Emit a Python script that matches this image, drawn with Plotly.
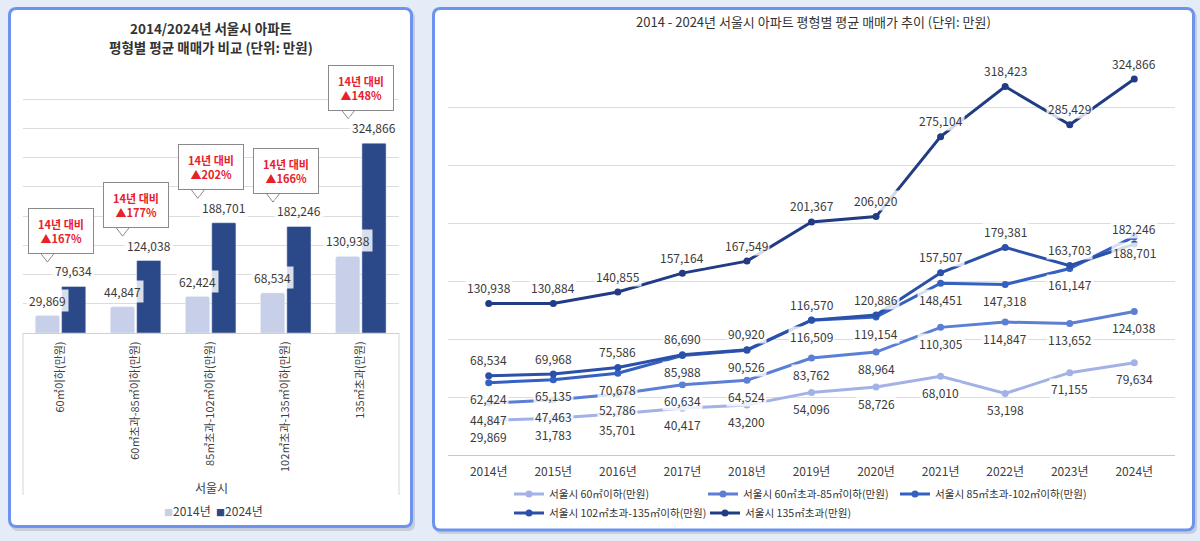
import plotly.graph_objects as go

W, H = 1200, 541
FONT = "Noto Sans CJK KR"

# ---------------- data: left bar chart ----------------
bar_categories = ["60㎡이하(만원)", "60㎡초과-85㎡이하(만원)", "85㎡초과-102㎡이하(만원)",
                  "102㎡초과-135㎡이하(만원)", "135㎡초과(만원)"]
bar_2014 = [29869, 44847, 62424, 68534, 130938]
bar_2024 = [79634, 124038, 188701, 182246, 324866]
growth_labels = ["▲167%", "▲177%", "▲202%", "▲166%", "▲148%"]

# ---------------- data: right line chart ----------------
years = ["2014년", "2015년", "2016년", "2017년", "2018년", "2019년",
         "2020년", "2021년", "2022년", "2023년", "2024년"]
names = ["서울시 60㎡이하(만원)", "서울시 60㎡초과-85㎡이하(만원)", "서울시 85㎡초과-102㎡이하(만원)",
         "서울시 102㎡초과-135㎡이하(만원)", "서울시 135㎡초과(만원)"]
s_60 = [29869, 31783, 35701, 40417, 43200, 54096, 58726, 68010, 53198, 71155, 79634]
s_60_85 = [44847, 47463, 52786, 60634, 64524, 83762, 88964, 110305, 114847, 113652, 124038]
s_85_102 = [62424, 65135, 70678, 85988, 90526, 116509, 119154, 148451, 147318, 161147, 188701]
s_102_135 = [68534, 69968, 75586, 86690, 90920, 116570, 120886, 157507, 179381, 163703, 182246]
s_135 = [130938, 130884, 140855, 157164, 167549, 201367, 206020, 275104, 318423, 285429, 324866]
series = [s_60, s_60_85, s_85_102, s_102_135, s_135]
colors = ["#a3b2e6", "#5b7fd4", "#3460c2", "#2a50a8", "#213c84"]
label_side = [-1, -1, -1, 1, 1]   # -1 below point, +1 above

# legend slots (pixel position of each legend entry's text start, row centre)
legend_slots = [(549, 494), (743, 494), (935, 494), (549, 513), (745, 513)]

C2014 = "#c8cfe8"
C2024 = "#2b4889"
TXT = "#3a3a3a"


def X(px):
    return px / W


def Y(py):
    return 1 - py / H


def rrect(x0, y0, x1, y1, r):
    return (f"M {X(x0 + r)},{Y(y0)} L {X(x1 - r)},{Y(y0)} Q {X(x1)},{Y(y0)} {X(x1)},{Y(y0 + r)} "
            f"L {X(x1)},{Y(y1 - r)} Q {X(x1)},{Y(y1)} {X(x1 - r)},{Y(y1)} "
            f"L {X(x0 + r)},{Y(y1)} Q {X(x0)},{Y(y1)} {X(x0)},{Y(y1 - r)} "
            f"L {X(x0)},{Y(y0 + r)} Q {X(x0)},{Y(y0)} {X(x0 + r)},{Y(y0)} Z")


fig = go.Figure()

# ---------------- left: bars ----------------
fig.add_trace(go.Bar(x=bar_categories, y=bar_2014, name="2014년", marker=dict(color=C2014, cornerradius=2),
                     xaxis="x", yaxis="y", showlegend=False, hoverinfo="x+y"))
fig.add_trace(go.Bar(x=bar_categories, y=bar_2024, name="2024년", marker=dict(color=C2024, cornerradius=1),
                     xaxis="x", yaxis="y", showlegend=False, hoverinfo="x+y"))

BARGAP = 0.3
OFF = (1 - BARGAP) / 4
CALLOUT_LIFT = 52000

annotations = []
# value labels on bars
for i in range(len(bar_categories)):
    for vals, dx in ((bar_2014, -OFF), (bar_2024, OFF)):
        annotations.append(dict(x=i + dx, y=vals[i], xref="x", yref="y", text=f"{vals[i]:,}",
                                showarrow=False, xanchor="center", yanchor="bottom", yshift=4,
                                font=dict(family=FONT, size=12, color=TXT),
                                bgcolor="rgba(255,255,255,0.82)", borderpad=2))

# callout pointers (on a hidden numeric axis laid over the category axis)
fig.add_trace(go.Scatter(
    x=[i - OFF for i in range(len(bar_categories))],
    y=[v + CALLOUT_LIFT for v in bar_2024],
    mode="markers", xaxis="x3", yaxis="y", showlegend=False, hoverinfo="skip",
    marker=dict(symbol="triangle-down", size=12, color="white", line=dict(color="#8a8a8a", width=1)),
    cliponaxis=False))
for i, g in enumerate(growth_labels):
    annotations.append(dict(x=i, y=bar_2024[i] + CALLOUT_LIFT, xref="x", yref="y",
                            text=f"<b>14년 대비</b><br><b>{g}</b>", showarrow=False, xanchor="center",
                            yanchor="bottom", yshift=2,
                            font=dict(family=FONT, size=11, color="#e8202a"),
                            bgcolor="white", bordercolor="#8a8a8a", borderwidth=1, borderpad=7,
                            width=50, align="center"))

# ---------------- right: lines ----------------
for k in range(5):
    fig.add_trace(go.Scatter(x=years, y=series[k], name=names[k], mode="lines+markers",
                             line=dict(color=colors[k], width=3),
                             marker=dict(color=colors[k], size=7),
                             xaxis="x2", yaxis="y2", legend="legend" if k == 0 else f"legend{k + 1}"))
    for j, v in enumerate(series[k]):
        annotations.append(dict(x=j, y=v, xref="x2", yref="y2", text=f"{v:,}", showarrow=False,
                                xanchor="center", yanchor="middle", yshift=16 * label_side[k],
                                font=dict(family=FONT, size=12, color=TXT),
                                bgcolor="rgba(255,255,255,0.8)", borderpad=1))

# titles and misc text
annotations += [
    dict(x=X(211), y=Y(28), xref="paper", yref="paper", showarrow=False,
         xanchor="center", yanchor="middle", text="<b>2014/2024년 서울시 아파트</b>",
         font=dict(family=FONT, size=13.5, color="#333333")),
    dict(x=X(211), y=Y(47), xref="paper", yref="paper", showarrow=False,
         xanchor="center", yanchor="middle", text="<b>평형별 평균 매매가 비교 (단위: 만원)</b>",
         font=dict(family=FONT, size=13.5, color="#333333")),
    dict(x=X(813), y=Y(22), xref="paper", yref="paper", showarrow=False,
         xanchor="center", yanchor="middle",
         text="2014 - 2024년 서울시 아파트 평형별 평균 매매가 추이 (단위: 만원)",
         font=dict(family=FONT, size=13, color="#333333")),
    dict(x=X(211), y=Y(487), xref="paper", yref="paper", showarrow=False,
         xanchor="center", yanchor="middle", text="서울시",
         font=dict(family=FONT, size=12, color="#404040")),
    dict(x=X(213), y=Y(510), xref="paper", yref="paper", showarrow=False,
         xanchor="center", yanchor="middle",
         text=(f'<span style="color:{C2014};font-size:9px">■</span>2014년  '
               f'<span style="color:{C2024};font-size:9px">■</span>2024년'),
         font=dict(family=FONT, size=12, color="#404040")),
]

shapes = [
    # panel shadows
    dict(type="path", xref="paper", yref="paper", path=rrect(11, 11, 415, 531, 7),
         fillcolor="rgba(60,70,100,0.18)", line=dict(width=0), layer="below"),
    dict(type="path", xref="paper", yref="paper", path=rrect(435, 11, 1197, 534, 7),
         fillcolor="rgba(60,70,100,0.18)", line=dict(width=0), layer="below"),
    # panels
    dict(type="path", xref="paper", yref="paper", path=rrect(9.5, 8.5, 411.5, 526.5, 7),
         fillcolor="white", line=dict(color="#6d93ee", width=3), layer="below"),
    dict(type="path", xref="paper", yref="paper", path=rrect(433.5, 8.5, 1193.5, 530, 7),
         fillcolor="white", line=dict(color="#6d93ee", width=3), layer="below"),
    # category box side lines (left chart)
    dict(type="line", xref="paper", yref="paper", x0=X(23), x1=X(23), y0=Y(333), y1=Y(495),
         line=dict(color="#d6d6d6", width=1), layer="below"),
    dict(type="line", xref="paper", yref="paper", x0=X(399), x1=X(399), y0=Y(333), y1=Y(495),
         line=dict(color="#d6d6d6", width=1), layer="below"),
]

legend_common = dict(orientation="h", xanchor="left", yanchor="middle", itemwidth=30,
                     bgcolor="rgba(0,0,0,0)",
                     font=dict(family=FONT, size=10.6, color="#333333"),
                     itemclick=False, itemdoubleclick=False)
legends = {}
for k, (tx, ty) in enumerate(legend_slots):
    key = "legend" if k == 0 else f"legend{k + 1}"
    legends[key] = dict(x=X(tx - 40), y=Y(ty), **legend_common)

fig.update_layout(
    width=W, height=H, autosize=False,
    margin=dict(l=0, r=0, t=0, b=0),
    paper_bgcolor="#e4ecf8", plot_bgcolor="rgba(0,0,0,0)",
    font=dict(family=FONT, color=TXT),
    barmode="group", bargap=BARGAP, bargroupgap=0.08,
    xaxis=dict(domain=[X(23), X(399)], anchor="y", type="category", tickangle=-90,
               showline=True, linecolor="#d0d0d0", linewidth=1, showgrid=False, ticks="",
               ticklabelstandoff=3,
               tickfont=dict(family=FONT, size=11, color="#404040"), fixedrange=True),
    xaxis3=dict(overlaying="x", anchor="y", type="linear", range=[-0.5, len(bar_categories) - 0.5],
                visible=False, fixedrange=True),
    yaxis=dict(domain=[Y(333), Y(70)], anchor="x", range=[0, 450000], dtick=50000,
               showticklabels=False, gridcolor="#dcdcdc", zeroline=False, fixedrange=True),
    xaxis2=dict(domain=[X(448), X(1175)], anchor="y2", type="category",
                showline=True, linecolor="#c8c8c8", linewidth=1, showgrid=False, ticks="",
                ticklabelstandoff=6,
                tickfont=dict(family=FONT, size=12, color="#404040"), fixedrange=True),
    yaxis2=dict(domain=[Y(455), Y(50)], anchor="x2", range=[0, 350000], dtick=50000,
                showticklabels=False, gridcolor="#dcdcdc", zeroline=False, fixedrange=True),
    annotations=annotations,
    shapes=shapes,
    hovermode="closest",
    **legends,
)

fig.write_html("out.html", config={"displayModeBar": False},
               post_script="document.body.style.margin='0';document.body.style.overflow='hidden';")
